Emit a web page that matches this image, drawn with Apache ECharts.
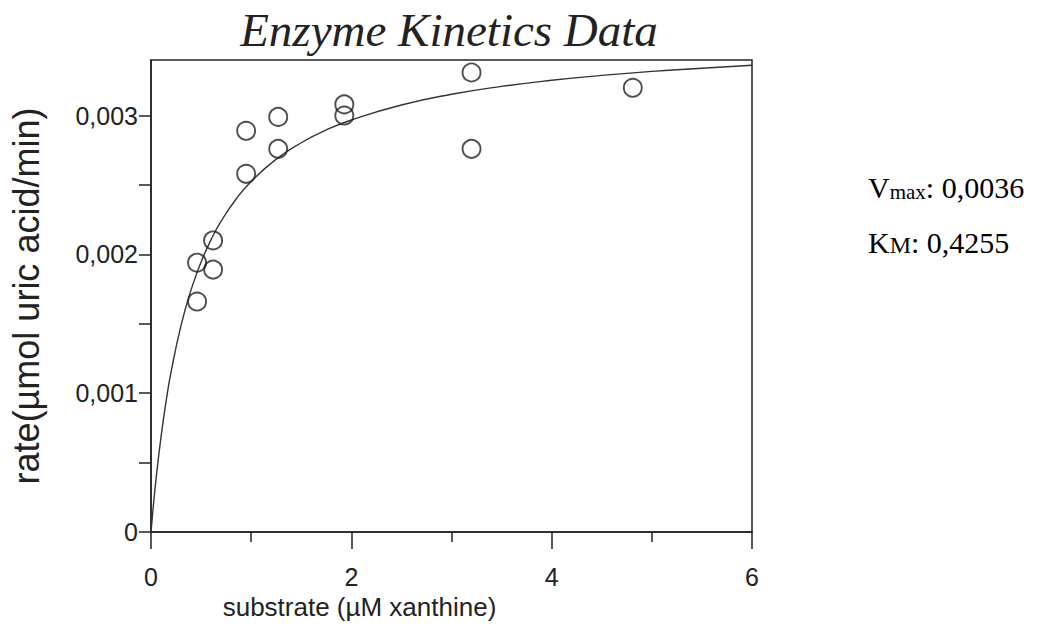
<!DOCTYPE html>
<html>
<head>
<meta charset="utf-8">
<script src="https://cdn.jsdelivr.net/npm/echarts@6/dist/echarts.min.js"></script>
<style>
  html, body { margin: 0; padding: 0; background: #fff; }
  #chart { width: 1053px; height: 631px; }
</style>
</head>
<body>
<div id="chart"></div>
<script>
// Measured substrate concentrations (µM xanthine) and rates
const substrate = [0.46, 0.46, 0.62, 0.62, 0.95, 0.95, 1.27, 1.27, 1.93, 1.93, 3.2, 3.2, 4.81];
const rate = [0.00194, 0.00166, 0.00210, 0.00189, 0.00289, 0.00258, 0.00299, 0.00276, 0.00308, 0.00300, 0.00331, 0.00276, 0.00320];

// Fitted curve
const curveX = [0, 0.02, 0.05, 0.1, 0.15, 0.2, 0.3, 0.4, 0.5, 0.6, 0.7, 0.85, 1, 1.25, 1.5, 1.75, 2, 2.5, 3, 3.5, 4, 4.5, 5, 5.5, 6];
const curveY = [0, 0.000162, 0.000379, 0.000685, 0.000938, 0.001151, 0.001489, 0.001744, 0.001945, 0.002106, 0.002239, 0.002399, 0.002525, 0.002686, 0.002804, 0.002896, 0.002968, 0.003076, 0.003153, 0.003210, 0.003254, 0.003289, 0.003318, 0.003341, 0.003362];

const yTickLabels = ['0', '0,001', '0,002', '0,003'];
const xTickLabels = ['0', '2', '4', '6'];

const titleText = 'Enzyme Kinetics Data';
const xName = 'substrate (µM xanthine)';
const yName = 'rate(µmol uric acid/min)';
const vmaxText = '0,0036';
const kmText = '0,4255';

const chart = echarts.init(document.getElementById('chart'), null, { renderer: 'svg' });

const sans = "'Liberation Sans', Arial, sans-serif";
const serif = "'Liberation Serif', 'Times New Roman', serif";

const option = {
  backgroundColor: '#ffffff',
  animation: false,
  title: {
    text: titleText,
    left: 444,
    textAlign: 'center',
    top: 1,
    textStyle: { fontFamily: serif, fontStyle: 'italic', fontWeight: 'normal', fontSize: 47, color: '#222' }
  },
  grid: {
    left: 151, right: 301, top: 60, bottom: 99,
    show: true, borderColor: '#222', borderWidth: 1.5, backgroundColor: 'transparent'
  },
  xAxis: {
    type: 'value', min: 0, max: 6, interval: 2,
    name: xName, nameLocation: 'middle', nameGap: 57,
    nameTextStyle: { fontFamily: sans, fontSize: 26, color: '#222', padding: [0, 184, 0, 0] },
    axisLine: { show: true, onZero: false, lineStyle: { color: '#222', width: 1.5 } },
    axisTick: { show: true, inside: false, length: 17, lineStyle: { color: '#222', width: 1.5 } },
    minorTick: { show: true, splitNumber: 2, length: 10, lineStyle: { color: '#222', width: 1.5 } },
    splitLine: { show: false },
    axisLabel: {
      fontFamily: sans, fontSize: 25, color: '#222', margin: 32,
      formatter: function (v) { const i = xTickLabels.indexOf(String(Math.round(v))); return (Math.abs(v - Math.round(v)) < 1e-9 && i >= 0) ? xTickLabels[i] : ''; }
    }
  },
  yAxis: {
    type: 'value', min: 0, max: 0.0034, interval: 0.0005,
    name: yName, nameLocation: 'middle', nameGap: 107, nameRotate: 90,
    nameTextStyle: { fontFamily: sans, fontSize: 36, color: '#222' },
    axisLine: { show: true, onZero: false, lineStyle: { color: '#222', width: 1.5 } },
    axisTick: { show: true, inside: false, length: 12, lineStyle: { color: '#222', width: 1.5 } },
    splitLine: { show: false },
    axisLabel: {
      fontFamily: sans, fontSize: 25, color: '#222', margin: 13, showMaxLabel: false,
      formatter: function (v) {
        const k = Math.round(v / 0.001);
        if (Math.abs(v - k * 0.001) > 1e-9) return '';
        return yTickLabels[k] !== undefined ? yTickLabels[k] : '';
      }
    }
  },
  graphic: [
    {
      type: 'text', left: 868, top: 172, z: 10,
      style: {
        text: '{v|V}{s|max}{v|: ' + vmaxText + '}',
        rich: {
          v: { fontFamily: serif, fontSize: 30, color: '#222', lineHeight: 34, verticalAlign: 'bottom' },
          s: { fontFamily: serif, fontSize: 21, color: '#222', lineHeight: 18, verticalAlign: 'bottom' }
        }
      }
    },
    {
      type: 'text', left: 868, top: 227, z: 10,
      style: {
        text: '{v|K}{s|M}{v|: ' + kmText + '}',
        rich: {
          v: { fontFamily: serif, fontSize: 30, color: '#222', lineHeight: 34, verticalAlign: 'bottom' },
          s: { fontFamily: serif, fontSize: 24, color: '#222', lineHeight: 20, verticalAlign: 'bottom' }
        }
      }
    }
  ],
  series: [
    {
      type: 'line',
      data: curveX.map((x, i) => [x, curveY[i]]),
      smooth: true,
      showSymbol: false,
      lineStyle: { color: '#333', width: 1.4 },
      z: 2
    },
    {
      type: 'scatter',
      data: substrate.map((x, i) => [x, rate[i]]),
      symbol: 'circle',
      symbolSize: 18,
      itemStyle: { color: 'rgba(255,255,255,0)', borderColor: '#222', borderWidth: 1.9 },
      z: 3
    }
  ]
};

chart.setOption(option);
</script>
</body>
</html>
